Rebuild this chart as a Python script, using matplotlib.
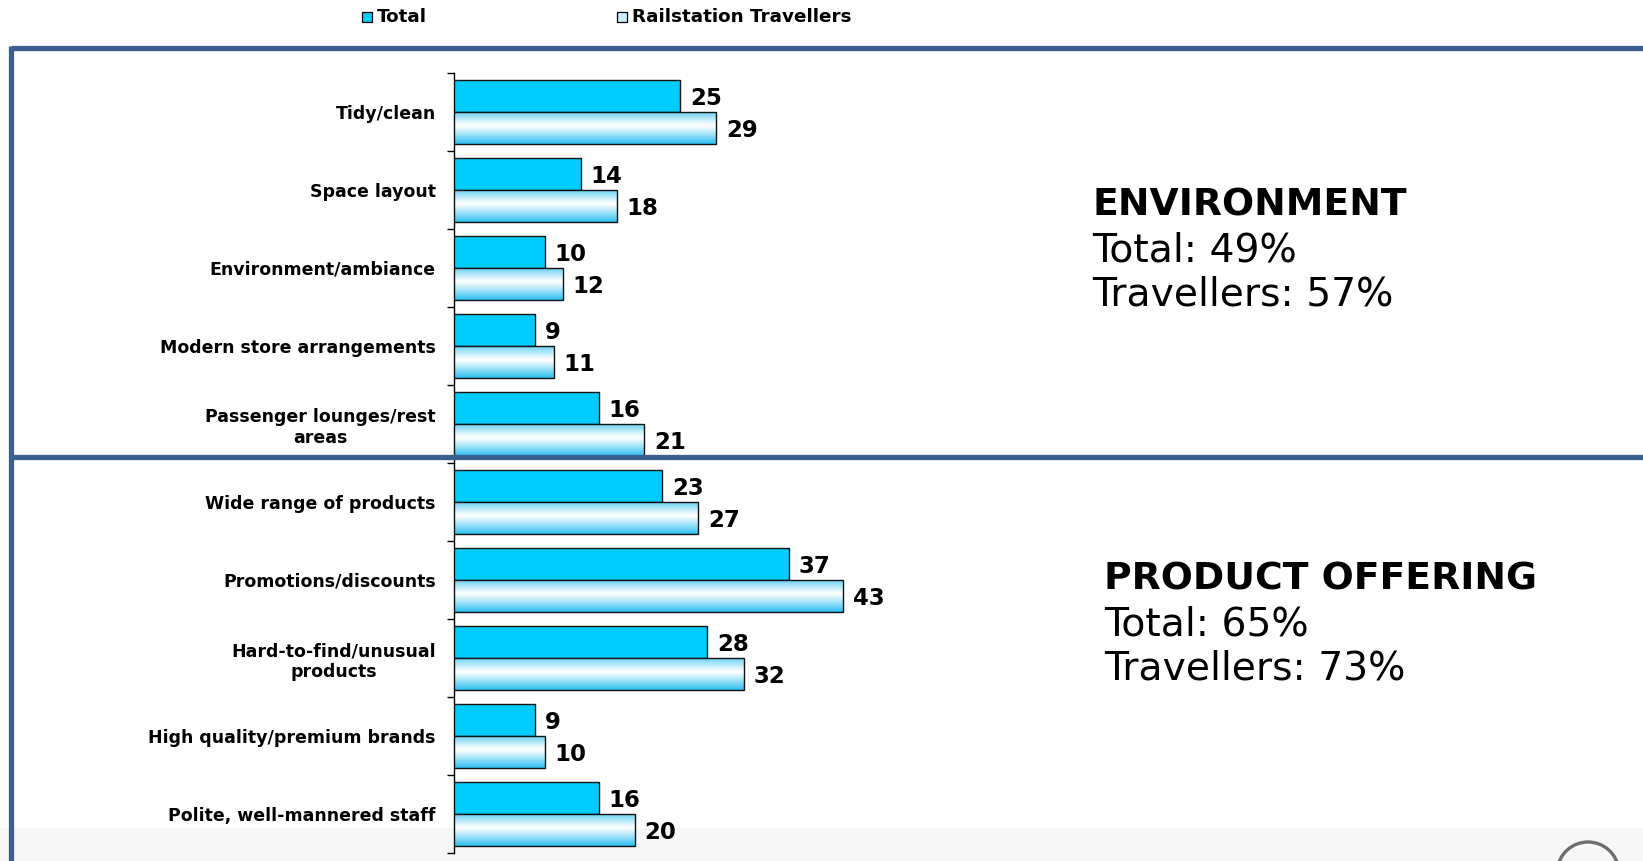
import numpy as np
import matplotlib.pyplot as plt
from matplotlib.lines import Line2D
from matplotlib.patches import Rectangle, Arc
from matplotlib.colors import to_rgb

categories = [
    "Tidy/clean",
    "Space layout",
    "Environment/ambiance",
    "Modern store arrangements",
    "Passenger lounges/rest\nareas",
    "Wide range of products",
    "Promotions/discounts",
    "Hard-to-find/unusual\nproducts",
    "High quality/premium brands",
    "Polite, well-mannered staff",
]
total = [25, 14, 10, 9, 16, 23, 37, 28, 9, 16]
travellers = [29, 18, 12, 11, 21, 27, 43, 32, 10, 20]
series_names = ["Total", "Railstation Travellers"]

groups = [
    ("ENVIRONMENT", "Total: 49%", "Travellers: 57%"),
    ("PRODUCT OFFERING", "Total: 65%", "Travellers: 73%"),
]

W, H = 1643, 861
fig = plt.figure(figsize=(W / 100, H / 100), dpi=100)
fig.patch.set_facecolor("white")

# faint grey band along the bottom edge
fig.patches.append(Rectangle((0, 0), 1, 33 / H, transform=fig.transFigure,
                             facecolor="#f7f7f7", edgecolor="none", zorder=-5))
# corner of a logo peeking in at the bottom right
fig.patches.append(Arc((1588 / W, -12 / H), 62 / W, 62 / H, theta1=10, theta2=170,
                       transform=fig.transFigure, color="#6e6e6e", linewidth=2.4,
                       zorder=-4))

ax_left, ax_right = 454, 454 + 60 * 9.05
ax_top, ax_bot = 73, 853
ax = fig.add_axes([ax_left / W, 1 - ax_bot / H, (ax_right - ax_left) / W,
                   (ax_bot - ax_top) / H])
ax.patch.set_alpha(0)

n = len(categories)
y = np.arange(n)
h = 0.41
cyan = "#00ccff"

ax.barh(y - h / 2, total, height=h, color=cyan, edgecolor="#111111",
        linewidth=1.0, zorder=3)
ax.barh(y + h / 2, travellers, height=h, facecolor="none",
        edgecolor="#111111", linewidth=1.0, zorder=4)

# vertical light-blue-to-white gradient inside the traveller bars
edge = np.array(to_rgb("#2cbff0"))
t = np.linspace(0, 1, 64)
wgt = np.clip(np.abs(t - 0.42) / 0.58, 0, 1) ** 1.1
grad = (1 - wgt)[:, None] * np.ones(3)[None, :] + wgt[:, None] * edge[None, :]
grad = grad[:, None, :]
for yi, v in zip(y + h / 2, travellers):
    ax.imshow(grad, extent=(0, v, yi + h / 2, yi - h / 2), origin="upper",
              aspect="auto", interpolation="bilinear", zorder=3.5)

for ys, vals in ((y - h / 2, total), (y + h / 2, travellers)):
    for yi, v in zip(ys, vals):
        ax.annotate(str(v), (v, yi), xytext=(7, -1.5), textcoords="offset points",
                    ha="left", va="center", fontsize=16.5, fontweight="bold",
                    family="DejaVu Sans")

ax.set_xlim(0, 60)
ax.set_ylim(n - 0.5, -0.5)

for s in ["top", "right", "bottom"]:
    ax.spines[s].set_visible(False)
ax.spines["left"].set_linewidth(1.0)
ax.set_xticks([])
ax.set_yticks(np.arange(n + 1) - 0.5)
ax.set_yticklabels([])
ax.tick_params(axis="y", which="major", length=5, width=1, direction="out")
ax.set_yticks(y, minor=True)
ax.set_yticklabels(categories, minor=True, fontsize=12.5, fontweight="bold",
                   family="DejaVu Sans")
ax.tick_params(axis="y", which="minor", length=0, pad=13)
for lbl in ax.get_yticklabels(minor=True):
    lbl.set_multialignment("center")

# legend across the top
def legend_item(x_px, label, face):
    fig.patches.append(Rectangle(((x_px - 5) / W, 1 - 22 / H), 10 / W, 10 / H,
                                 transform=fig.transFigure, facecolor=face,
                                 edgecolor="black", linewidth=0.9, zorder=5))
    fig.text((x_px + 10) / W, 1 - 17 / H, label, ha="left", va="center",
             fontsize=13.2, fontweight="bold", family="DejaVu Sans")

legend_item(367, series_names[0], cyan)
legend_item(622, series_names[1], "#cdeefb")

# frame lines
frame = "#3b5f8e"
fig.add_artist(Line2D([10.5 / W, 1], [1 - 48 / H] * 2, transform=fig.transFigure,
                      color=frame, linewidth=3.8, solid_capstyle="butt", zorder=10))
fig.add_artist(Line2D([10.5 / W, 1], [1 - 457 / H] * 2, transform=fig.transFigure,
                      color=frame, linewidth=3.8, solid_capstyle="butt", zorder=10))
fig.add_artist(Line2D([10.5 / W] * 2, [0, 1 - 46 / H], transform=fig.transFigure,
                      color=frame, linewidth=3.8, solid_capstyle="butt", zorder=10))

# group summaries on the right
positions = [(1092, 205), (1104, 579)]
for (title, l1, l2), (xp, yp) in zip(groups, positions):
    fig.text(xp / W, 1 - yp / H, title, ha="left", va="center", fontsize=27.2,
             fontweight="bold", family="DejaVu Sans")
    fig.text(xp / W, 1 - (yp + 45) / H, l1, ha="left", va="center",
             fontsize=28.3, family="DejaVu Sans")
    fig.text(xp / W, 1 - (yp + 89) / H, l2, ha="left", va="center",
             fontsize=28.3, family="DejaVu Sans")

fig.savefig("out.png", dpi=100)
